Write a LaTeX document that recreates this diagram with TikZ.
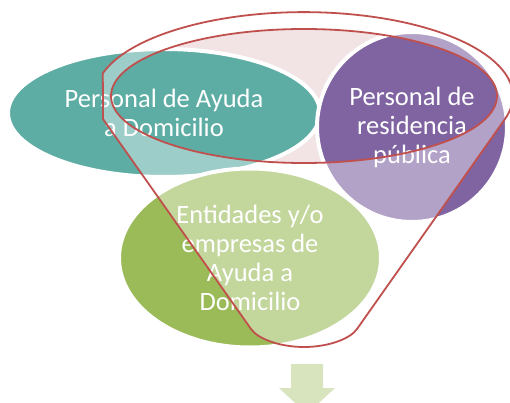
\documentclass[tikz,border=0pt]{standalone}
\usepackage{fontspec}
\setmainfont{Carlito}
\usetikzlibrary{shapes.geometric}
\definecolor{tealbub}{RGB}{93,173,165}
\definecolor{purplebub}{RGB}{128,100,162}
\definecolor{greenbub}{RGB}{155,187,89}
\definecolor{funnelred}{RGB}{192,80,77}
\definecolor{funnelpink}{RGB}{242,228,228}
\definecolor{arrowgreen}{RGB}{215,228,189}
\tikzstyle{bubble} = [draw=white, line width=4pt, inner sep=0pt,
   text=white, align=center]
\tikzstyle{funnelline} = [draw=funnelred, line width=1.8pt]

\begin{document}
\begin{tikzpicture}[
  x=1pt, y=-1pt,
  font=\fontsize{26.5}{29}\selectfont,
  ]
  \clip (0,0) rectangle (510,403);
  % mouth of the funnel
  \fill[funnelpink] (304,96) ellipse [x radius=193, y radius=67];
  \node[bubble,ellipse,fill=tealbub,minimum width=312pt,minimum height=128pt] (ayuda) at (164,113) {Personal de Ayuda\\a Domicilio};
  \node[bubble,circle,fill=purplebub,minimum size=190pt] (residencia) at (412,127) {Personal de\\residencia\\pública};
  \node[bubble,ellipse,fill=greenbub,minimum width=262pt,minimum height=179pt] (entidades) at (250,258) {Entidades y/o\\empresas de\\Ayuda a\\Domicilio};
  % funnel glass
  \fill[white,fill opacity=0.4,even odd rule] (103,119) -- (251,329)
    .. controls (258,339) and (280,347) .. (304,347)
    .. controls (328,347) and (350,339) .. (357,329) -- (505,119)
    arc[start angle=15.8, end angle=-164.2, x radius=209, y radius=84] -- cycle
    (304,96) ellipse [x radius=193, y radius=67];
  \draw[funnelline] (103,119) -- (251,329)
    .. controls (258,339) and (280,347) .. (304,347)
    .. controls (328,347) and (350,339) .. (357,329) -- (505,119)
    arc[start angle=15.8, end angle=-164.2, x radius=209, y radius=84] -- cycle;
  \draw[funnelline] (304,96) ellipse [x radius=193, y radius=67];
  % arrow out of the funnel
  \fill[arrowgreen] (291,364) -- (323,364) -- (323,388) -- (335,388)
    -- (307,414) -- (279,388) -- (291,388) -- cycle;
\end{tikzpicture}
\end{document}
